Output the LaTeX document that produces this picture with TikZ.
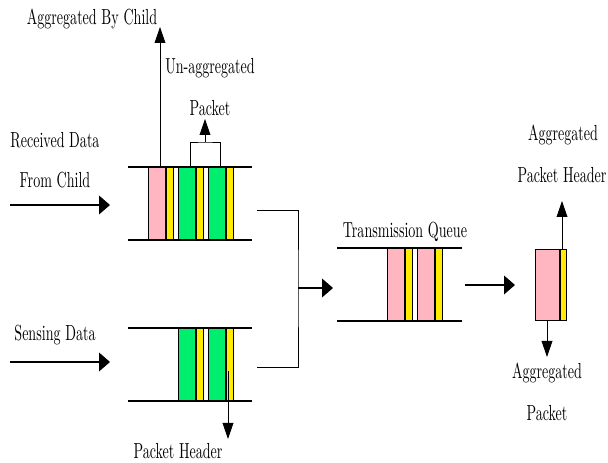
\documentclass[tikz,border=0pt]{standalone}
\usepackage{amsmath}
\usetikzlibrary{arrows.meta,positioning}
\definecolor{pktpink}{RGB}{255,182,193}
\definecolor{pktgreen}{RGB}{0,238,110}
\definecolor{pktyellow}{RGB}{255,236,0}
\tikzset{
  rail/.style={line width=2pt},
  body/.style={draw, line width=0.5pt, inner sep=0pt, minimum width=0.425cm, minimum height=1.825cm, anchor=south west},
  hdr/.style={draw, line width=0.5pt, fill=pktyellow, inner sep=0pt, minimum width=0.175cm, minimum height=1.825cm},
  lbl/.style={yscale=1.55, inner sep=0pt},
  harrow/.style={-{Triangle[length=0.27cm,width=0.46cm]}, line width=1pt},
  varrow/.style={-{Triangle[length=0.4cm,width=0.27cm]}, line width=0.6pt},
}
\begin{document}
\begin{tikzpicture}
\useasboundingbox (0,0) rectangle (15.2,11.575);
% queue for received data
\node [body, fill=pktpink] (pA1) at (3.7,5.575) {};
\node [hdr, right=0pt of pA1] (hA1) {};
\node [body, fill=pktgreen] (pA2) at (4.45,5.575) {};
\node [hdr, right=0pt of pA2] (hA2) {};
\node [body, fill=pktgreen] (pA3) at (5.2,5.575) {};
\node [hdr, right=0pt of pA3] (hA3) {};
\draw [rail] (3.2,7.4) -- (6.3,7.4);
\draw [rail] (3.2,5.575) -- (6.3,5.575);
% queue for sensing data
\node [body, fill=pktgreen] (pB1) at (4.45,1.55) {};
\node [hdr, right=0pt of pB1] (hB1) {};
\node [body, fill=pktgreen] (pB2) at (5.2,1.55) {};
\node [hdr, right=0pt of pB2] (hB2) {};
\draw [rail] (3.2,3.375) -- (6.3,3.375);
\draw [rail] (3.2,1.55) -- (6.3,1.55);
% transmission queue
\node [body, fill=pktpink] (pT1) at (9.675,3.55) {};
\node [hdr, right=0pt of pT1] (hT1) {};
\node [body, fill=pktpink] (pT2) at (10.425,3.55) {};
\node [hdr, right=0pt of pT2] (hT2) {};
\draw [rail] (8.425,5.375) -- (11.55,5.375);
\draw [rail] (8.425,3.55) -- (11.55,3.55);
% aggregated packet
\node [body, fill=pktpink, minimum width=0.6cm, minimum height=1.775cm] (pG) at (13.375,3.55) {};
\node [hdr, right=0pt of pG, minimum width=0.15cm, minimum height=1.775cm] (hG) {};
% labels
\node [lbl] (abc) at (2.3,11.1) {Aggregated By Child};
\node [lbl] (unagg) at (5.25,9.875) {Un-aggregated};
\node [lbl] (unpkt) at (5.25,8.875) {Packet};
\node [lbl] (rcv1) at (1.375,8.075) {Received Data};
\node [lbl] (rcv2) at (1.375,7.075) {From Child};
\node [lbl] (sns) at (1.375,3.2) {Sensing Data};
\node [lbl] (phdr) at (4.45,0.3) {Packet Header};
\node [lbl] (tq) at (10.125,5.775) {Transmission Queue};
\node [lbl] (aph1) at (14.075,8.2) {Aggregated};
\node [lbl] (aph2) at (14.05,7.2) {Packet Header};
\node [lbl] (ap1) at (13.675,2.25) {Aggregated};
\node [lbl] (ap2) at (13.675,1.25) {Packet};
% end points of the connectors
\coordinate (rcvS) at (0.25,6.45);
\coordinate (rcvE) at (2.75,6.45);
\coordinate (snsS) at (0.25,2.525);
\coordinate (snsE) at (2.75,2.525);
\coordinate (abcS) at (4.0,7.4);
\coordinate (abcE) at (4.0,10.9);
\coordinate (brL) at (4.75,7.4);
\coordinate (brR) at (5.5,7.4);
\coordinate (brTop) at (5.125,8.025);
\coordinate (brE) at (5.125,8.6);
\coordinate (phS) at (5.7,2.3);
\coordinate (phE) at (5.7,0.6);
\coordinate (qAout) at (6.425,6.325);
\coordinate (qBout) at (6.425,2.4);
\coordinate (joint) at (7.45,4.375);
\coordinate (tqIn) at (8.325,4.375);
\coordinate (tqOut) at (11.625,4.45);
\coordinate (aggIn) at (12.875,4.45);
\coordinate (aphS) at (14.05,5.325);
\coordinate (aphE) at (14.05,6.55);
\coordinate (apS) at (13.675,3.55);
\coordinate (apE) at (13.675,2.65);
% connectors
\draw [harrow] (rcvS) -- (rcvE);
\draw [harrow] (snsS) -- (snsE);
\draw [varrow] (abcS) -- (abcE);
\draw [line width=0.6pt] (brL) |- (brTop) -| (brR);
\draw [varrow] (brTop) -- (brE);
\draw [varrow] (phS) -- (phE);
\draw [line width=0.6pt] (qAout) -| (joint) |- (qBout);
\draw [harrow] (joint) -- (tqIn);
\draw [harrow] (tqOut) -- (aggIn);
\draw [varrow] (aphS) -- (aphE);
\draw [varrow] (apS) -- (apE);
\end{tikzpicture}
\end{document}
